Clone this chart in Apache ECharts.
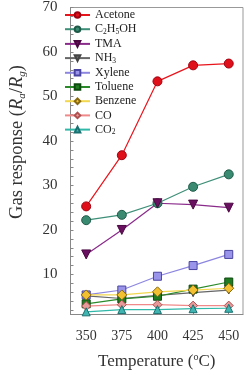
<!DOCTYPE html>
<html>
<head>
<meta charset="utf-8">
<script src="https://cdn.jsdelivr.net/npm/echarts@6/dist/echarts.min.js"></script>
<style>
  html, body { margin: 0; padding: 0; background: #fff; }
  #chart { width: 251px; height: 375px; }
</style>
</head>
<body>
<div id="chart"></div>
<script>
// temperatures (x)
var temps = [350, 375, 400, 425, 450];
var xLabels = [350, 375, 400, 425, 450];
var yLabels = [10, 20, 30, 40, 50, 60, 70];

// gas response values
var acetone = [25.3, 36.8, 53.4, 57.0, 57.4];
var ethanol = [22.2, 23.4, 26.0, 29.7, 32.5];
var tma = [14.5, 20.0, 26.0, 25.7, 25.0];
var nh3 = [5.2, 4.6, 5.3, 5.9, 6.5];
var xylene = [5.4, 6.5, 9.6, 12.0, 14.5];
var toluene = [3.4, 4.5, 5.1, 6.7, 8.3];
var benzene = [5.4, 5.4, 6.1, 6.5, 6.9];
var co = [2.9, 3.2, 3.2, 3.0, 3.0];
var co2 = [1.6, 2.1, 2.1, 2.3, 2.4];

var names = ['Acetone', 'C2H5OH', 'TMA', 'NH3', 'Xylene', 'Toluene', 'Benzene', 'CO', 'CO2'];

function pairs(arr) {
    return arr.map(function (v, i) { return [temps[i], v]; });
}

function mk(name, data, symbol, size, line, fill, border, rot) {
    return {
        name: name,
        type: 'line',
        data: pairs(data),
        symbol: symbol,
        symbolSize: size,
        symbolRotate: rot || 0,
        lineStyle: { color: line, width: 1.2 },
        itemStyle: { color: fill, borderColor: border, borderWidth: 1 },
        emphasis: { disabled: true },
        z: 2
    };
}

var minorTicks = [];
for (var t = 2; t <= 70; t += 2) minorTicks.push(t);

var serif = 'Liberation Serif';
var chart = echarts.init(document.getElementById('chart'));
chart.setOption({
    animation: false,
    grid: {
        left: 53, right: 8, top: 5, bottom: 55,
        show: true, borderColor: '#999', borderWidth: 1
    },
    legend: {
        orient: 'vertical',
        left: 59, top: 4,
        itemGap: 2.2,
        itemWidth: 25, itemHeight: 7,
        data: names,
        textStyle: {
            fontFamily: serif, fontSize: 12, color: '#222',
            rich: {
                n: { fontFamily: serif, fontSize: 12, color: '#222', lineHeight: 13 },
                s: { fontFamily: serif, fontSize: 7.5, color: '#222', lineHeight: 8, verticalAlign: 'bottom' }
            }
        },
        formatter: function (n) {
            if (n === 'C2H5OH') return '{n|C}{s|2}{n|H}{s|5}{n|OH}';
            if (n === 'NH3') return '{n|NH}{s|3}';
            if (n === 'CO2') return '{n|CO}{s|2}';
            return '{n|' + n + '}';
        }
    },
    xAxis: {
        type: 'value',
        min: 339, max: 460,
        name: '{n|Temperature (}{sup|o}{n|C)}',
        nameLocation: 'middle',
        nameGap: 38,
        nameTextStyle: {
            rich: {
                n: { fontFamily: serif, fontSize: 17, color: '#333', lineHeight: 18 },
                sup: { fontFamily: serif, fontSize: 10, color: '#333', lineHeight: 10, verticalAlign: 'top' }
            }
        },
        splitLine: { show: false },
        axisLine: { lineStyle: { color: '#888' } },
        axisTick: { inside: true, length: 4, customValues: xLabels, lineStyle: { color: '#888' } },
        axisLabel: {
            customValues: xLabels, margin: 15,
            fontFamily: serif, fontSize: 14, color: '#333'
        }
    },
    yAxis: {
        type: 'value',
        min: 1, max: 70,
        name: '{n|Gas response (}{i|R}{si|a}{n|/}{i|R}{si|g}{n|)}',
        nameLocation: 'middle',
        nameRotate: 90,
        nameGap: 43,
        nameTextStyle: {
            padding: [0, 0, 0, 38],
            rich: {
                n: { fontFamily: serif, fontSize: 18.5, color: '#333', lineHeight: 20 },
                i: { fontFamily: serif, fontSize: 18.5, fontStyle: 'italic', color: '#333', lineHeight: 20 },
                si: { fontFamily: serif, fontSize: 11, fontStyle: 'italic', color: '#333', lineHeight: 10, verticalAlign: 'bottom' }
            }
        },
        splitLine: { show: false },
        axisLine: { lineStyle: { color: '#888' } },
        axisTick: { inside: true, length: 3, customValues: minorTicks, lineStyle: { color: '#888' } },
        axisLabel: {
            customValues: yLabels, margin: 13,
            fontFamily: serif, fontSize: 15, color: '#333'
        }
    },
    series: [
        mk('Acetone', acetone, 'circle', 9, '#e8141c', '#e0101a', '#a00010'),
        mk('C2H5OH', ethanol, 'circle', 9, '#3e8f78', '#3a8a72', '#1e5a48'),
        mk('TMA', tma, 'triangle', 9, '#8a2a8a', '#6a1060', '#4a0840', 180),
        mk('NH3', nh3, 'triangle', 8, '#666666', '#666666', '#444444', 180),
        mk('Xylene', xylene, 'rect', 8, '#8c86e0', '#9a95ea', '#4a45a0'),
        mk('Toluene', toluene, 'rect', 8, '#2a8a2a', '#1f7a20', '#0e4a10'),
        mk('Benzene', benzene, 'diamond', 10, '#f2d850', '#f2c030', '#8a6a10'),
        mk('CO', co, 'diamond', 9, '#f08a8a', '#e89a9a', '#b05050'),
        mk('CO2', co2, 'triangle', 8, '#30b8a8', '#40b4b0', '#1a7070')
    ]
});
</script>
</body>
</html>
